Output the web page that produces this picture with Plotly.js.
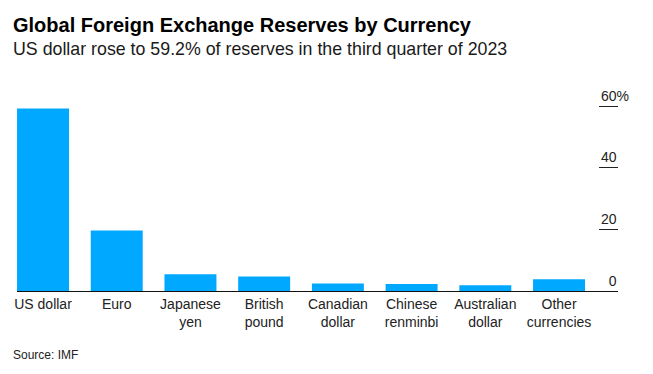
<!DOCTYPE html>
<html>
<head>
<meta charset="utf-8">
<script src="https://cdn.plot.ly/plotly-3.0.1.min.js"></script>
<style>html,body{margin:0;padding:0;background:#fff;}#chart{width:653px;height:374px;}</style>
</head>
<body>
<div id="chart"></div>
<script>
const categories = ["US dollar", "Euro", "Japanese<br>yen", "British<br>pound", "Canadian<br>dollar", "Chinese<br>renminbi", "Australian<br>dollar", "Other<br>currencies"];
const shares = [59.2, 19.6, 5.4, 4.7, 2.4, 2.3, 1.9, 3.8];
const yTickVals = [0, 20, 40, 60];
const yTickText = ["0", "20", "40", "60"];
const unitSuffix = "%";

const FONT = "Liberation Sans, Arial, sans-serif";
const mL = 17, mR = 35, mT = 80, mB = 83;
const plotW = 653 - mL - mR, plotH = 374 - mT - mB;
const yMax = (374 - mB - mT) / 3.083;
function px(x) { return (x - mL) / plotW; }
function py(y) { return (374 - mB - y) / plotH; }

// the % suffix is shown only on the top label; on the others it is kept invisible
// so that the numbers stay right-aligned with the tick marks and "%" hangs to the right
const tickLabels = yTickText.map((t, i) =>
  i === yTickText.length - 1 ? t + unitSuffix
    : t + "<span style='color:rgba(255,255,255,0)'>" + unitSuffix + "</span>");

const trace = {
  type: "bar",
  x: categories,
  y: shares,
  marker: { color: "#00a9ff" },
  hoverinfo: "none"
};

const layout = {
  width: 653, height: 374,
  margin: { l: mL, r: mR, t: mT, b: mB },
  paper_bgcolor: "#fff", plot_bgcolor: "#fff",
  showlegend: false,
  bargap: 0.295,
  font: { family: FONT, color: "#1a1a1a" },
  xaxis: {
    type: "category",
    range: [-0.353, 7.8],
    showline: true, linecolor: "#111", linewidth: 1,
    ticks: "", showgrid: false, zeroline: false,
    tickfont: { family: FONT, size: 14, color: "#222" },
    fixedrange: true
  },
  yaxis: {
    range: [0, yMax],
    side: "right",
    tickvals: yTickVals, ticktext: tickLabels,
    ticks: "inside", ticklen: 19, tickwidth: 1, tickcolor: "#222",
    ticklabelposition: "inside top",
    ticklabelstandoff: -14,
    showgrid: false, zeroline: false, showline: false,
    tickfont: { family: FONT, size: 14, color: "#222" },
    fixedrange: true
  },
  annotations: [
    { text: "<b>Global Foreign Exchange Reserves by Currency</b>", xref: "paper", yref: "paper",
      x: px(11), y: py(12), xanchor: "left", yanchor: "top", showarrow: false,
      font: { family: FONT, size: 20, color: "#000" } },
    { text: "US dollar rose to 59.2% of reserves in the third quarter of 2023", xref: "paper", yref: "paper",
      x: px(11), y: py(37), xanchor: "left", yanchor: "top", showarrow: false,
      font: { family: FONT, size: 17.8, color: "#1a1a1a" } },
    { text: "Source: IMF", xref: "paper", yref: "paper",
      x: px(11), y: py(346), xanchor: "left", yanchor: "top", showarrow: false,
      font: { family: FONT, size: 12, color: "#222" } }
  ]
};

Plotly.newPlot("chart", [trace], layout, { displayModeBar: false, staticPlot: true });
</script>
</body>
</html>
